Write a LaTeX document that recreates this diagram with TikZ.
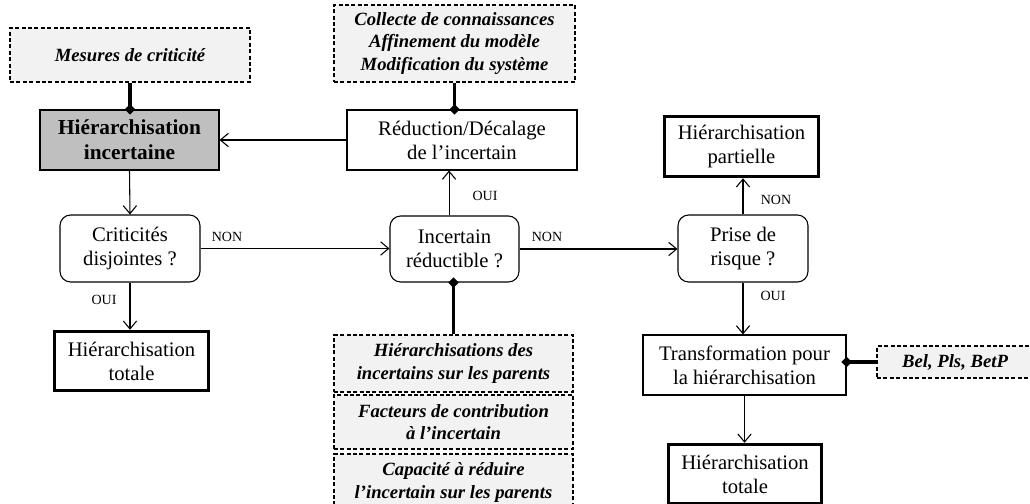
\documentclass[tikz,border=0pt]{standalone}
\usepackage{fontspec}
\setmainfont{Liberation Serif}
\usetikzlibrary{arrows.meta,shapes.geometric}
\definecolor{infogray}{HTML}{F2F2F2}
\definecolor{boldgray}{HTML}{BFBFBF}
\begin{document}
\begin{tikzpicture}[x=0.75pt,y=-0.75pt,
 base/.style={draw,line width=0.8pt,align=center,inner sep=0pt,font=\fontsize{15.5}{18}\selectfont},
 proc/.style={base},
 dec/.style={base,rounded corners=8pt},
 term/.style={base,line width=2.6pt},
 info/.style={draw,dash pattern=on 3pt off 1.8pt,line width=0.8pt,fill=infogray,align=center,inner sep=0pt,font=\fontsize{14}{17}\selectfont\bfseries\itshape},
 flow/.style={draw,line width=0.8pt,-{Straight Barb[length=6pt,width=10pt,line width=0.8pt]}},
 link/.style={draw,line width=2.3pt},
 dot/.style={diamond,fill,inner sep=0pt,minimum size=8pt},
 lab/.style={font=\fontsize{10.5}{12}\selectfont}
]
\useasboundingbox (0,0) rectangle (1030,503);
\clip (0,0) rectangle (1030,503);

% info boxes
\node[info,minimum width={240*0.75pt},minimum height={54*0.75pt}] (mes) at (130,55) {Mesures de criticité};
\node[info,minimum width={241*0.75pt},minimum height={77*0.75pt}] (col) at (454.5,43.5) {Collecte de connaissances\\Affinement du modèle\\Modification du système};
\node[info,minimum width={239*0.75pt},minimum height={57*0.75pt}] (hp) at (453.5,363.5) {Hiérarchisations des\\incertains sur les parents};
\node[info,minimum width={239*0.75pt},minimum height={54*0.75pt}] (fac) at (453.5,422) {Facteurs de contribution\\à l’incertain};
\node[info,minimum width={239*0.75pt},minimum height={57*0.75pt}] (cap) at (453.5,482.5) {Capacité à réduire\\l’incertain sur les parents};
\node[info,minimum width={156*0.75pt},minimum height={32*0.75pt}] (bel) at (955,362) {Bel, Pls, BetP};

% process boxes
\node[proc,fill=boldgray,font=\fontsize{16}{19}\selectfont\bfseries,minimum width={179*0.75pt},minimum height={60*0.75pt}] (hinc) at (129.5,140) {Hiérarchisation\\incertaine};
\node[proc,minimum width={230*0.75pt},minimum height={60*0.75pt}] (red) at (462,140) {Réduction/Décalage\\de l’incertain};
\node[dec,minimum width={140*0.75pt},minimum height={67*0.75pt}] (crit) at (130,248.5) {Criticités\\disjointes ?};
\node[dec,minimum width={129*0.75pt},minimum height={66*0.75pt}] (inc) at (454.5,249) {Incertain\\réductible ?};
\node[dec,minimum width={130*0.75pt},minimum height={67*0.75pt}] (prise) at (743,248.5) {Prise de\\risque ?};
\node[term,minimum width={154*0.75pt},minimum height={60*0.75pt}] (part) at (741.5,146.5) {Hiérarchisation\\partielle};
\node[term,minimum width={154*0.75pt},minimum height={59*0.75pt}] (tot1) at (131.5,361) {Hiérarchisation\\totale};
\node[proc,minimum width={203*0.75pt},minimum height={60*0.75pt}] (trans) at (744.5,365) {Transformation pour\\la hiérarchisation};
\node[term,minimum width={153*0.75pt},minimum height={59*0.75pt}] (tot2) at (745,474) {Hiérarchisation\\totale};

% flow connectors
\draw[flow] (red.west) -- (hinc.east);
\draw[flow] (hinc.south) -- (crit.north);
\draw[flow] (crit.east) -- (crit.east -| inc.west);
\coordinate (iu) at ([xshift=-4.1pt]inc.north);
\draw[flow] (iu) -- (iu |- red.south);
\draw[flow] (inc.east) -- (inc.east -| prise.west);
\draw[flow] (prise.north) -- (prise.north |- part.south);
\draw[flow] (prise.south) -- (prise.south |- trans.north);
\draw[flow] (trans.south) -- (trans.south |- tot2.north);
\draw[flow] (crit.south) -- (crit.south |- tot1.north);

% info links
\draw[link] (mes.south) -- (mes.south |- hinc.north);
\draw[link] (col.south) -- (col.south |- red.north);
\draw[link] (hp.north) -- (hp.north |- inc.south);
\draw[link] (bel.west) -- (bel.west -| trans.east);
\node[dot] (d1) at (mes.south |- hinc.north) {};
\node[dot] (d2) at (col.south |- red.north) {};
\node[dot] (d3) at (hp.north |- inc.south) {};
\node[dot] (d4) at (bel.west -| trans.east) {};

% labels
\node[lab] (l1) at (227,237) {NON};
\node[lab] (l2) at (547,237) {NON};
\node[lab] (l3) at (485,196) {OUI};
\node[lab] (l4) at (776,200) {NON};
\node[lab] (l5) at (773,296) {OUI};
\node[lab] (l6) at (104,300) {OUI};
\end{tikzpicture}
\end{document}
